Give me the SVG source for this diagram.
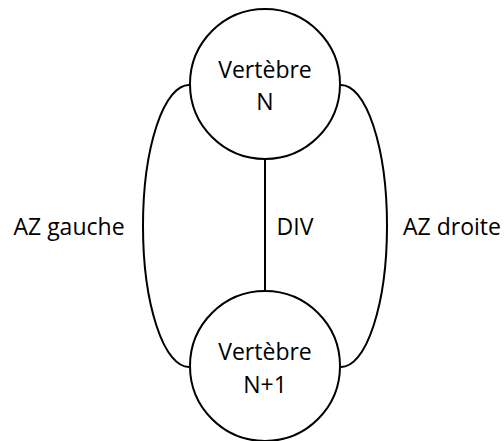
<svg xmlns="http://www.w3.org/2000/svg" width="504" height="441" viewBox="0 0 504 441">
<style>
.s{fill:none;stroke:#000;stroke-width:2}
.n{fill:#fff;stroke:#000;stroke-width:2}
text{font-family:"Open Sans","Liberation Sans",sans-serif;font-size:23px;fill:#000;text-anchor:middle}
</style>
<rect width="504" height="441" fill="#fff"/>
<g id="connectors">
<path class="s" d="M189,85 A46,141 0 0 0 189,367"/>
<path class="s" d="M341,85 A46,141 0 0 1 341,367"/>
<line class="s" x1="265" y1="159" x2="265" y2="292"/>
</g>
<g id="node-N">
<circle class="n" cx="265" cy="84" r="75"/>
<text x="265" y="78">Vertèbre</text>
<text x="265" y="110">N</text>
</g>
<g id="node-N1">
<circle class="n" cx="265" cy="366" r="75"/>
<text x="265" y="360">Vertèbre</text>
<text x="265" y="393">N+1</text>
</g>
<g id="labels">
<text x="69" y="235">AZ gauche</text>
<text x="295" y="235">DIV</text>
<text x="452" y="235">AZ droite</text>
</g>
</svg>
